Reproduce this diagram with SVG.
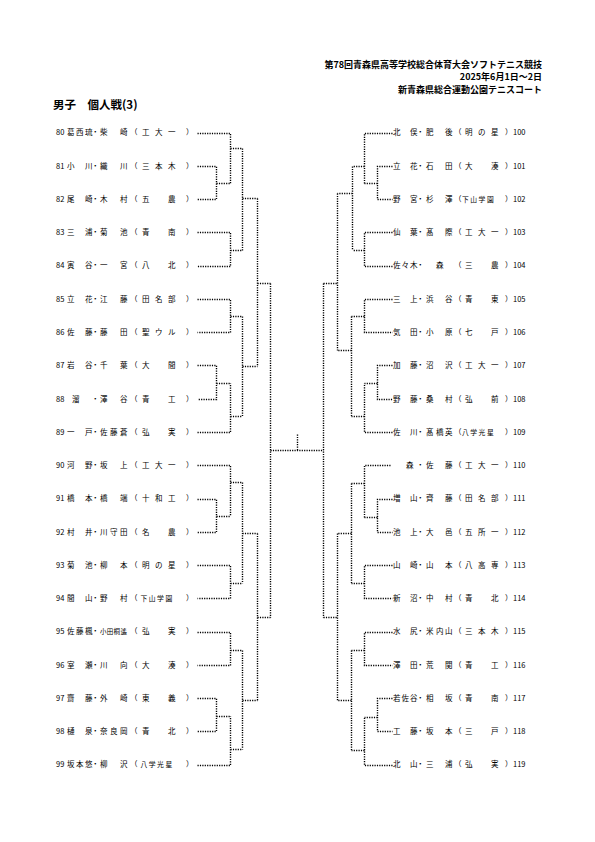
<svg xmlns="http://www.w3.org/2000/svg" width="595" height="842" viewBox="0 0 595 842">
<style>
.t{font-family:"Noto Sans CJK JP","Noto Sans CJK SC",sans-serif;font-size:7.5px;fill:#000}
.s{font-size:6.8px}
.s2{font-size:6.5px}
.h{font-family:"Noto Sans CJK JP",sans-serif;font-size:9px;font-weight:bold;fill:#000}
.ti{font-family:"Noto Sans CJK JP",sans-serif;font-size:11.5px;font-weight:bold;fill:#000}
.c path{fill:none;stroke:#000;stroke-width:1.4;stroke-dasharray:1.2 1.2}
</style>
<rect width="595" height="842" fill="#fff"/>
<g id="header">
<text class="h" x="542" y="68.3" text-anchor="end">第78回青森県高等学校総合体育大会ソフトテニス競技</text>
<text class="h" x="542" y="79.5" text-anchor="end">2025年6月1日～2日</text>
<text class="h" x="542" y="93.3" text-anchor="end">新青森県総合運動公園テニスコート</text>
<text class="ti" x="53" y="109.4">男子　個人戦(3)</text>
</g>
<g id="left">
<g id="p80"><text class="t" x="56" y="135.3">80</text><text class="t" x="67 76 85 91.5 100 110 120 130 142 155 168 186" y="135.3">葛西琉・柴　崎（工大一）</text></g>
<g id="p81"><text class="t" x="56" y="168.6">81</text><text class="t" x="67 76 85 91.5 100 110 120 130 142 155 168 186" y="168.6">小　川・織　川（三本木）</text></g>
<g id="p82"><text class="t" x="56" y="201.8">82</text><text class="t" x="67 76 85 91.5 100 110 120 130 142 155 168 186" y="201.8">尾　崎・木　村（五　農）</text></g>
<g id="p83"><text class="t" x="56" y="235.1">83</text><text class="t" x="67 76 85 91.5 100 110 120 130 142 155 168 186" y="235.1">三　浦・菊　池（青　南）</text></g>
<g id="p84"><text class="t" x="56" y="268.4">84</text><text class="t" x="67 76 85 91.5 100 110 120 130 142 155 168 186" y="268.4">寅　谷・一　宮（八　北）</text></g>
<g id="p85"><text class="t" x="56" y="301.7">85</text><text class="t" x="67 76 85 91.5 100 110 120 130 142 155 168 186" y="301.7">立　花・江　藤（田名部）</text></g>
<g id="p86"><text class="t" x="56" y="334.9">86</text><text class="t" x="67 76 85 91.5 100 110 120 130 142 155 168 186" y="334.9">佐　藤・藤　田（聖ウル）</text></g>
<g id="p87"><text class="t" x="56" y="368.2">87</text><text class="t" x="67 76 85 91.5 100 110 120 130 142 155 168 186" y="368.2">岩　谷・千　葉（大　間）</text></g>
<g id="p88"><text class="t" x="56" y="401.5">88</text><text class="t" x="72 81 91.5 100 110 120 130 142 155 168 186" y="401.5">溜　・澤　谷（青　工）</text></g>
<g id="p89"><text class="t" x="56" y="434.7">89</text><text class="t" x="67 76 85 91.5 100 110 120 130 142 155 168 186" y="434.7">一　戸・佐藤蒼（弘　実）</text></g>
<g id="p90"><text class="t" x="56" y="468">90</text><text class="t" x="67 76 85 91.5 100 110 120 130 142 155 168 186" y="468">河　野・坂　上（工大一）</text></g>
<g id="p91"><text class="t" x="56" y="501.3">91</text><text class="t" x="67 76 85 91.5 100 110 120 130 142 155 168 186" y="501.3">橋　本・橋　端（十和工）</text></g>
<g id="p92"><text class="t" x="56" y="534.5">92</text><text class="t" x="67 76 85 91.5 100 110 120 130 142 155 168 186" y="534.5">村　井・川守田（名　農）</text></g>
<g id="p93"><text class="t" x="56" y="567.8">93</text><text class="t" x="67 76 85 91.5 100 110 120 130 142 155 168 186" y="567.8">菊　池・柳　本（明の星）</text></g>
<g id="p94"><text class="t" x="56" y="601.1">94</text><text class="t" y="601.1"><tspan x="67 76 85 91.5 100 110 120 130">間　山・野　村（</tspan><tspan class="s" x="140.5 148.8 157.1 165.4">下山学園</tspan><tspan x="186">）</tspan></text></g>
<g id="p95"><text class="t" x="56" y="634.4">95</text><text class="t" y="634.4"><tspan x="67 76 85 91.5">佐藤楓・</tspan><tspan class="s2" x="100 106.8 113.6 120.4">小田桐遙</tspan><tspan x="130 142 155 168 186">（弘　実）</tspan></text></g>
<g id="p96"><text class="t" x="56" y="667.6">96</text><text class="t" x="67 76 85 91.5 100 110 120 130 142 155 168 186" y="667.6">室　瀬・川　向（大　湊）</text></g>
<g id="p97"><text class="t" x="56" y="700.9">97</text><text class="t" x="67 76 85 91.5 100 110 120 130 142 155 168 186" y="700.9">齋　藤・外　崎（東　義）</text></g>
<g id="p98"><text class="t" x="56" y="734.2">98</text><text class="t" x="67 76 85 91.5 100 110 120 130 142 155 168 186" y="734.2">樋　泉・奈良岡（青　北）</text></g>
<g id="p99"><text class="t" x="56" y="767.4">99</text><text class="t" y="767.4"><tspan x="67 76 85 91.5 100 110 120 130">坂本悠・柳　沢（</tspan><tspan class="s" x="140.5 148.8 157.1 165.4">八学光星</tspan><tspan x="186">）</tspan></text></g>
</g>
<g id="right">
<g id="p100"><text class="t" x="393 401.5 410 416.5 426 436 445 454 465 478 491 505" y="135.3">北　俣・肥　後（明の星）</text><text class="t" x="513" y="135.3">100</text></g>
<g id="p101"><text class="t" x="393 401.5 410 416.5 426 436 445 454 465 478 491 505" y="168.6">立　花・石　田（大　湊）</text><text class="t" x="513" y="168.6">101</text></g>
<g id="p102"><text class="t" y="201.8"><tspan x="393 401.5 410 416.5 426 436 445 454">野　宮・杉　澤（</tspan><tspan class="s" x="462 470.3 478.6 486.9">下山学園</tspan><tspan x="505">）</tspan></text><text class="t" x="513" y="201.8">102</text></g>
<g id="p103"><text class="t" x="393 401.5 410 416.5 426 436 445 454 465 478 491 505" y="235.1">仙　葉・髙　際（工大一）</text><text class="t" x="513" y="235.1">103</text></g>
<g id="p104"><text class="t" x="393 401.5 410 416.5 426 436 445 454 465 478 491 505" y="268.4">佐々木・　森　（三　農）</text><text class="t" x="513" y="268.4">104</text></g>
<g id="p105"><text class="t" x="393 401.5 410 416.5 426 436 445 454 465 478 491 505" y="301.7">三　上・浜　谷（青　東）</text><text class="t" x="513" y="301.7">105</text></g>
<g id="p106"><text class="t" x="393 401.5 410 416.5 426 436 445 454 465 478 491 505" y="334.9">気　田・小　原（七　戸）</text><text class="t" x="513" y="334.9">106</text></g>
<g id="p107"><text class="t" x="393 401.5 410 416.5 426 436 445 454 465 478 491 505" y="368.2">加　藤・沼　沢（工大一）</text><text class="t" x="513" y="368.2">107</text></g>
<g id="p108"><text class="t" x="393 401.5 410 416.5 426 436 445 454 465 478 491 505" y="401.5">野　藤・桑　村（弘　前）</text><text class="t" x="513" y="401.5">108</text></g>
<g id="p109"><text class="t" y="434.7"><tspan x="393 401.5 410 416.5 426 436 445 454">佐　川・髙橋英（</tspan><tspan class="s" x="462 470.3 478.6 486.9">八学光星</tspan><tspan x="505">）</tspan></text><text class="t" x="513" y="434.7">109</text></g>
<g id="p110"><text class="t" x="406 412 416.5 426 436 445 454 465 478 491 505" y="468">森　・佐　藤（工大一）</text><text class="t" x="513" y="468">110</text></g>
<g id="p111"><text class="t" x="393 401.5 410 416.5 426 436 445 454 465 478 491 505" y="501.3">増　山・齊　藤（田名部）</text><text class="t" x="513" y="501.3">111</text></g>
<g id="p112"><text class="t" x="393 401.5 410 416.5 426 436 445 454 465 478 491 505" y="534.5">池　上・大　邑（五所一）</text><text class="t" x="513" y="534.5">112</text></g>
<g id="p113"><text class="t" x="393 401.5 410 416.5 426 436 445 454 465 478 491 505" y="567.8">山　崎・山　本（八高専）</text><text class="t" x="513" y="567.8">113</text></g>
<g id="p114"><text class="t" x="393 401.5 410 416.5 426 436 445 454 465 478 491 505" y="601.1">新　沼・中　村（青　北）</text><text class="t" x="513" y="601.1">114</text></g>
<g id="p115"><text class="t" x="393 401.5 410 416.5 426 436 445 454 465 478 491 505" y="634.4">水　尻・米内山（三本木）</text><text class="t" x="513" y="634.4">115</text></g>
<g id="p116"><text class="t" x="393 401.5 410 416.5 426 436 445 454 465 478 491 505" y="667.6">澤　田・荒　関（青　工）</text><text class="t" x="513" y="667.6">116</text></g>
<g id="p117"><text class="t" x="393 401.5 410 416.5 426 436 445 454 465 478 491 505" y="700.9">若佐谷・相　坂（青　南）</text><text class="t" x="513" y="700.9">117</text></g>
<g id="p118"><text class="t" x="393 401.5 410 416.5 426 436 445 454 465 478 491 505" y="734.2">工　藤・坂　本（三　戸）</text><text class="t" x="513" y="734.2">118</text></g>
<g id="p119"><text class="t" x="393 401.5 410 416.5 426 436 445 454 465 478 491 505" y="767.4">北　山・三　浦（弘　実）</text><text class="t" x="513" y="767.4">119</text></g>
</g>
<g id="connectors" class="c" transform="translate(0.5 0.5)">
<path d="M197 133H230V183M197 166H216V199H197M216 183H230M230 148H242M197 232H230V266H197M230 250H242M242 148V250M242 198H257"/>
<path d="M197 299H230V332H197M230 316H242M197 365H216V399H197M216 383H230M197 432H230V383M230 416H242M242 316V416M242 366H257"/>
<path d="M197 465H230V516M197 499H216V532H197M216 516H230M230 482H242M197 565H230V598H197M230 583H242M242 482V583M242 533H257"/>
<path d="M197 632H230V665H197M230 650H242M197 698H216V731H197M216 716H230M197 765H230V716M230 749H242M242 650V749M242 700H257"/>
<path d="M257 198V366M257 283H270M257 533V700M257 617H270M270 283V617M270 450H323M297 434V450M323 283V617M323 283H337M323 617H337M337 193V350M337 533V700"/>
<path d="M392 133H364V183M392 166H377V199H392M377 183H364M364 166H352M392 232H364V266H392M364 250H352M352 166V250M352 193H337"/>
<path d="M392 299H364V332H392M364 316H351M392 365H377V399H392M377 383H364M392 432H364V383M364 416H351M351 316V416M351 350H337"/>
<path d="M390 465H364V517M392 499H377V532H392M377 517H364M364 483H351M392 565H364V598H392M364 583H351M351 483V583M351 533H337"/>
<path d="M392 632H364V665H392M364 650H351M392 698H377V731H392M377 717H364M392 765H364V717M364 750H351M351 650V750M351 700H337"/>
</g>
</svg>
